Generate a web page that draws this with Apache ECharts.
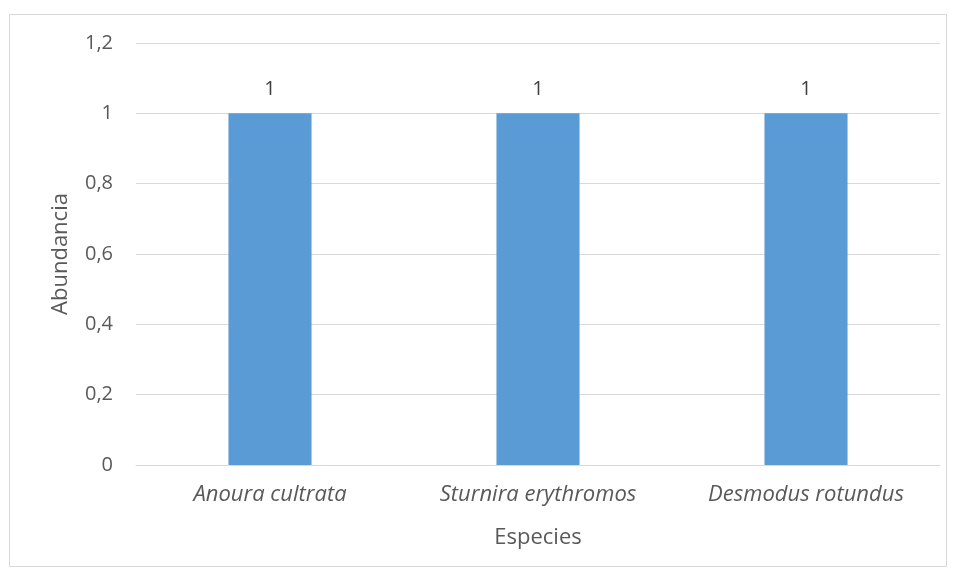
<!DOCTYPE html>
<html><head><meta charset="utf-8">
<script src="https://cdn.jsdelivr.net/npm/echarts@6/dist/echarts.min.js"></script>
<style>html,body{margin:0;padding:0;background:#fff}#c{width:957px;height:576px;position:relative}
#frame{position:absolute;left:9px;top:14px;width:938px;height:553px;border:1px solid #d9d9d9;box-sizing:border-box;pointer-events:none}</style>
</head><body><div id="c"></div><div id="frame"></div>
<script>
const categories = ["Anoura cultrata", "Sturnira erythromos", "Desmodus rotundus"];
const values = [1, 1, 1];
const yTicks = [0, 0.2, 0.4, 0.6, 0.8, 1, 1.2];
const chart = echarts.init(document.getElementById('c'));
const font = '"Open Sans", "Noto Sans", sans-serif';
chart.setOption({
  animation: false,
  textStyle: {fontFamily: font},
  grid: {left: 136, right: 17, top: 43, bottom: 111, containLabel: false},
  xAxis: {
    type: 'category', data: categories,
    name: 'Especies', nameLocation: 'middle', nameGap: 62,
    nameTextStyle: {fontSize: 22, color: '#595959', fontFamily: font},
    axisLine: {lineStyle: {color: '#d9d9d9', width: 1}},
    axisTick: {show: false},
    axisLabel: {fontSize: 22, color: '#595959', fontStyle: 'italic', margin: 19, fontFamily: font}
  },
  yAxis: {
    type: 'value', min: yTicks[0], max: yTicks[yTicks.length - 1], interval: 0.2,
    name: 'Abundancia', nameLocation: 'middle', nameGap: 64, nameRotate: 90,
    nameTextStyle: {fontSize: 22, color: '#595959', fontFamily: font},
    axisLine: {show: false}, axisTick: {show: false},
    splitLine: {lineStyle: {color: '#d9d9d9', width: 1}},
    axisLabel: {fontSize: 20, color: '#595959', margin: 23, fontFamily: font,
      formatter: v => String(Math.round(v * 10) / 10).replace('.', ',')}
  },
  series: [{
    type: 'bar', data: values, barWidth: '31%',
    itemStyle: {color: '#5B9BD5'},
    label: {show: true, position: 'top', distance: 14, fontSize: 20, color: '#404040', fontFamily: font}
  }]
});
</script></body></html>
